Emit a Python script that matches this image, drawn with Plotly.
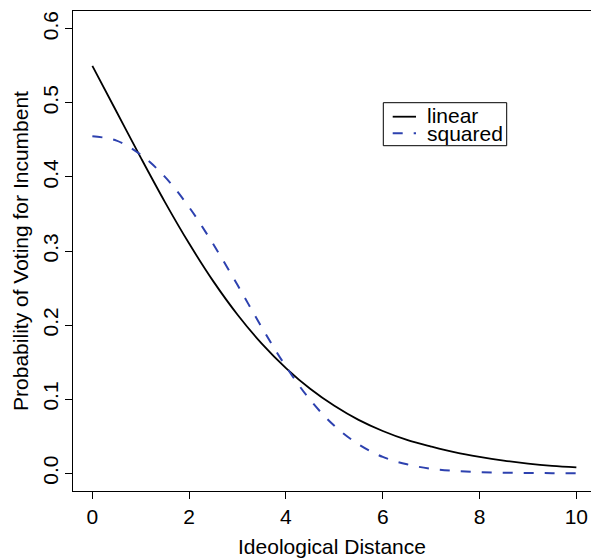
import plotly.graph_objects as go

# Data
distance = [0, 0.5, 1, 1.5, 2, 2.5, 3, 3.5, 4, 4.5, 5, 5.5, 6, 6.5, 7, 7.5, 8, 8.5, 9, 9.5, 10]
linear = [0.550, 0.488, 0.426, 0.366, 0.310, 0.259, 0.214, 0.175, 0.142, 0.114, 0.091,
          0.072, 0.057, 0.045, 0.036, 0.028, 0.022, 0.017, 0.013, 0.010, 0.008]
squared = [0.455, 0.449, 0.430, 0.400, 0.359, 0.309, 0.254, 0.197, 0.144, 0.099, 0.064,
           0.039, 0.022, 0.012, 0.006, 0.003, 0.0014, 0.0007, 0.0003, 0.0001, 0.0000]
x_ticks = [0, 2, 4, 6, 8, 10]
y_ticks = [0.0, 0.1, 0.2, 0.3, 0.4, 0.5, 0.6]
y_tick_text = ["0.0", "0.1", "0.2", "0.3", "0.4", "0.5", "0.6"]
series_names = ["linear", "squared"]

BLUE = "rgb(45,65,175)"
FONT = "Liberation Sans, Arial, sans-serif"
FS = 21
DASH = "10px,11px"

fig = go.Figure()
fig.add_trace(go.Scatter(x=distance, y=linear, mode="lines", name=series_names[0],
                         line=dict(color="black", width=1.8, shape="spline"),
                         showlegend=False))
fig.add_trace(go.Scatter(x=distance, y=squared, mode="lines", name=series_names[1],
                         line=dict(color=BLUE, width=2, dash=DASH, shape="spline"),
                         showlegend=False))

W, H = 591, 559
ML, MT, MB, MR = 73, 11, 68, 0
pw = W - ML - MR
ph = H - MT - MB

def px2paper(px, py):
    return (px - ML) / pw, (H - MB - py) / ph

# Legend (drawn manually)
bx0, by0 = px2paper(383.3, 145.7)
bx1, by1 = px2paper(506.7, 102.7)
shapes = [dict(type="rect", xref="paper", yref="paper", x0=bx0, y0=by0, x1=bx1, y1=by1,
               line=dict(color="black", width=1), fillcolor="white", layer="above")]
lx0, _ = px2paper(392.7, 0)
lx1, _ = px2paper(416.0, 0)
_, ly_lin = px2paper(0, 116.7)
_, ly_sq = px2paper(0, 133.3)
shapes.append(dict(type="line", xref="paper", yref="paper", x0=lx0, x1=lx1, y0=ly_lin, y1=ly_lin,
                   line=dict(color="black", width=1.8), layer="above"))
shapes.append(dict(type="line", xref="paper", yref="paper", x0=lx0, x1=lx1, y0=ly_sq, y1=ly_sq,
                   line=dict(color=BLUE, width=2, dash=DASH), layer="above"))
tx, _ = px2paper(425.0, 0)
_, ty_lin = px2paper(0, 115.0)
_, ty_sq = px2paper(0, 133.0)
annotations = [
    dict(xref="paper", yref="paper", x=tx, y=ty_lin, text=series_names[0], showarrow=False,
         xanchor="left", yanchor="middle", font=dict(family=FONT, size=FS, color="black")),
    dict(xref="paper", yref="paper", x=tx, y=ty_sq, text=series_names[1], showarrow=False,
         xanchor="left", yanchor="middle", font=dict(family=FONT, size=FS, color="black")),
]

x_right = -0.4 + pw / 48.4

fig.update_layout(
    width=W, height=H,
    margin=dict(l=ML, r=MR, t=MT, b=MB, pad=0),
    paper_bgcolor="white", plot_bgcolor="white",
    font=dict(family=FONT, size=FS, color="black"),
    shapes=shapes, annotations=annotations,
    xaxis=dict(range=[-0.4, x_right], tickvals=x_ticks, ticks="outside", ticklen=7,
               tickwidth=1, tickcolor="black", showline=True, linecolor="black", linewidth=1.2,
               mirror=True, showgrid=False, zeroline=False,
               tickfont=dict(family=FONT, size=FS),
               title=dict(text="Ideological Distance", font=dict(family=FONT, size=FS), standoff=12)),
    yaxis=dict(range=[-0.024, 0.624], tickvals=y_ticks, ticktext=y_tick_text, ticks="outside",
               ticklen=7, tickwidth=1, tickcolor="black", showline=True, linecolor="black",
               linewidth=1.2, mirror=False, showgrid=False, zeroline=False, tickangle=-90,
               ticklabelstandoff=-1,
               tickfont=dict(family=FONT, size=FS),
               title=dict(text="Probability of Voting for Incumbent", font=dict(family=FONT, size=FS),
                          standoff=4)),
)

fig.write_html("out.html")
